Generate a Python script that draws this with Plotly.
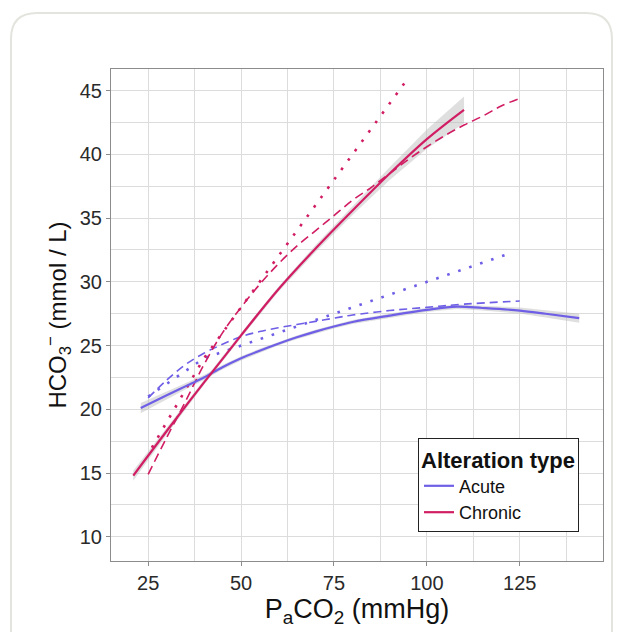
import plotly.graph_objects as go

# ---- data ----
acute_fit_x = [23, 30, 35, 40, 45, 50, 55, 60, 65, 70, 75, 80, 90, 100, 108, 115, 125, 132, 141]
acute_fit_y = [20.1, 21.1, 21.8, 22.5, 23.3, 24.0, 24.6, 25.15, 25.65, 26.1, 26.5, 26.85, 27.35, 27.8, 28.05, 27.95, 27.75, 27.5, 27.15]
acute_se = [0.4, 0.3, 0.24, 0.2, 0.18, 0.16, 0.15, 0.15, 0.15, 0.15, 0.15, 0.15, 0.16, 0.17, 0.18, 0.2, 0.24, 0.28, 0.35]

acute_dash_x = [25, 30, 35, 40, 45, 50, 55, 60, 65, 70, 75, 80, 90, 100, 110, 125]
acute_dash_y = [20.9, 22.3, 23.5, 24.4, 25.1, 25.7, 26.1, 26.4, 26.65, 26.9, 27.15, 27.4, 27.75, 28.0, 28.25, 28.5]

acute_dot_x = [25, 40, 123]
acute_dot_y = [21.0, 24.0, 32.3]

chronic_fit_x = [21, 30, 40, 50, 60, 70, 80, 90, 100, 110]
chronic_fit_y = [14.8, 18.3, 22.1, 25.8, 29.4, 32.6, 35.6, 38.5, 41.2, 43.5]
chronic_se = [0.4, 0.28, 0.2, 0.18, 0.2, 0.27, 0.35, 0.5, 0.75, 1.05]

chronic_dash_x = [25, 30, 35, 40, 45, 50, 55, 60, 65, 70, 75, 80, 85, 90, 95, 100, 105, 110, 115, 120, 125]
chronic_dash_y = [14.9, 17.8, 20.6, 23.5, 26.0, 28.0, 29.8, 31.4, 32.8, 34.0, 35.2, 36.4, 37.4, 38.5, 39.6, 40.6, 41.5, 42.3, 43.0, 43.8, 44.4]

chronic_dot_x = [26, 40, 95]
chronic_dot_y = [17.0, 24.0, 46.0]

x_ticks = [25, 50, 75, 100, 125]
y_ticks = [10, 15, 20, 25, 30, 35, 40, 45]

ACUTE = "#6E5FE6"
CHRONIC = "#D11D63"
RIBBON = "rgba(185,185,185,0.45)"
FONT = "Liberation Sans, Arial, sans-serif"

fig = go.Figure()

def ribbon(xs, ys, se):
    up = [y + s for y, s in zip(ys, se)]
    lo = [y - s for y, s in zip(ys, se)]
    return go.Scatter(x=xs + xs[::-1], y=up + lo[::-1], fill="toself",
                      fillcolor=RIBBON, line=dict(width=0), mode="lines",
                      hoverinfo="skip", showlegend=False)

fig.add_trace(ribbon(acute_fit_x, acute_fit_y, acute_se))
fig.add_trace(ribbon(chronic_fit_x, chronic_fit_y, chronic_se))

# dashed and dotted reference curves
fig.add_trace(go.Scatter(x=acute_dash_x, y=acute_dash_y, mode="lines", line_shape="spline",
                         line=dict(color=ACUTE, width=1.6, dash="8px,5px"), showlegend=False))
fig.add_trace(go.Scatter(x=acute_dot_x, y=acute_dot_y, mode="lines",
                         line=dict(color=ACUTE, width=2.6, dash="2.6px,9px"), showlegend=False))
fig.add_trace(go.Scatter(x=chronic_dash_x, y=chronic_dash_y, mode="lines", line_shape="spline",
                         line=dict(color=CHRONIC, width=1.6, dash="9px,5px"), showlegend=False))
fig.add_trace(go.Scatter(x=chronic_dot_x, y=chronic_dot_y, mode="lines",
                         line=dict(color=CHRONIC, width=2.6, dash="2.6px,9px"), showlegend=False))

# fitted curves (legend)
fig.add_trace(go.Scatter(x=acute_fit_x, y=acute_fit_y, mode="lines", line_shape="spline",
                         line=dict(color=ACUTE, width=2.2), name="Acute"))
fig.add_trace(go.Scatter(x=chronic_fit_x, y=chronic_fit_y, mode="lines", line_shape="spline",
                         line=dict(color=CHRONIC, width=2.2), name="Chronic"))

# card border around the figure (rounded rectangle); screen px -> paper
def P(px, py):
    a, b = (px - 111) / 492, (561 - py) / 492
    return f"{a:.5f},{b:.5f}"

L, T, R, B, rad = 11, 13, 612, 640, 26
path = (f"M{P(L, B)} L{P(L, T + rad)} Q{P(L, T)} {P(L + rad, T)} "
        f"L{P(R - rad, T)} Q{P(R, T)} {P(R, T + rad)} L{P(R, B)}")
fig.add_shape(type="path", path=path, xref="paper", yref="paper",
              line=dict(color="#E4E4DE", width=2), layer="below")

axis_common = dict(
    showline=True, linecolor="#8C8C8C", linewidth=1.2, mirror=True,
    showgrid=True, gridcolor="#DCDCDC", gridwidth=1.3,
    ticks="outside", ticklen=4, tickcolor="#8C8C8C", tickwidth=1,
    tickfont=dict(family=FONT, size=20, color="#2A2A2A"),
    zeroline=False,
)

fig.update_xaxes(range=[15, 147.4], tickvals=x_ticks,
                 minor=dict(tickvals=[37.5, 62.5, 87.5, 112.5, 137.5], showgrid=True,
                            gridcolor="#DCDCDC", gridwidth=1.3, ticks=""),
                 title=dict(text="P<sub>a</sub>CO<sub>2</sub> (mmHg)",
                            font=dict(family=FONT, size=27, color="#111"),
                            standoff=2),
                 **axis_common)
fig.update_yaxes(range=[8.1, 46.7], tickvals=y_ticks,
                 minor=dict(tickvals=[12.5, 17.5, 22.5, 27.5, 32.5, 37.5, 42.5], showgrid=True,
                            gridcolor="#DCDCDC", gridwidth=1.3, ticks=""),
                 title=dict(text="HCO<sub>3</sub><sup>−</sup> (mmol / L)",
                            font=dict(family=FONT, size=24, color="#111"),
                            standoff=6),
                 **axis_common)

# page body has an 8px margin: size the figure so the plot area lands at 111..603 x 69..561
fig.update_layout(
    width=614, height=624,
    margin=dict(l=103, r=19, t=61, b=71),
    paper_bgcolor="white", plot_bgcolor="white",
    font=dict(family=FONT),
    legend=dict(
        x=0.624, y=0.25, xanchor="left", yanchor="top",
        bgcolor="white", bordercolor="#222", borderwidth=1,
        title=dict(text="<b>Alteration type</b>",
                   font=dict(family=FONT, size=22, color="#111")),
        font=dict(family=FONT, size=18, color="#111"),
        itemwidth=30, tracegroupgap=0,
    ),
)

fig.write_html("out.html")
